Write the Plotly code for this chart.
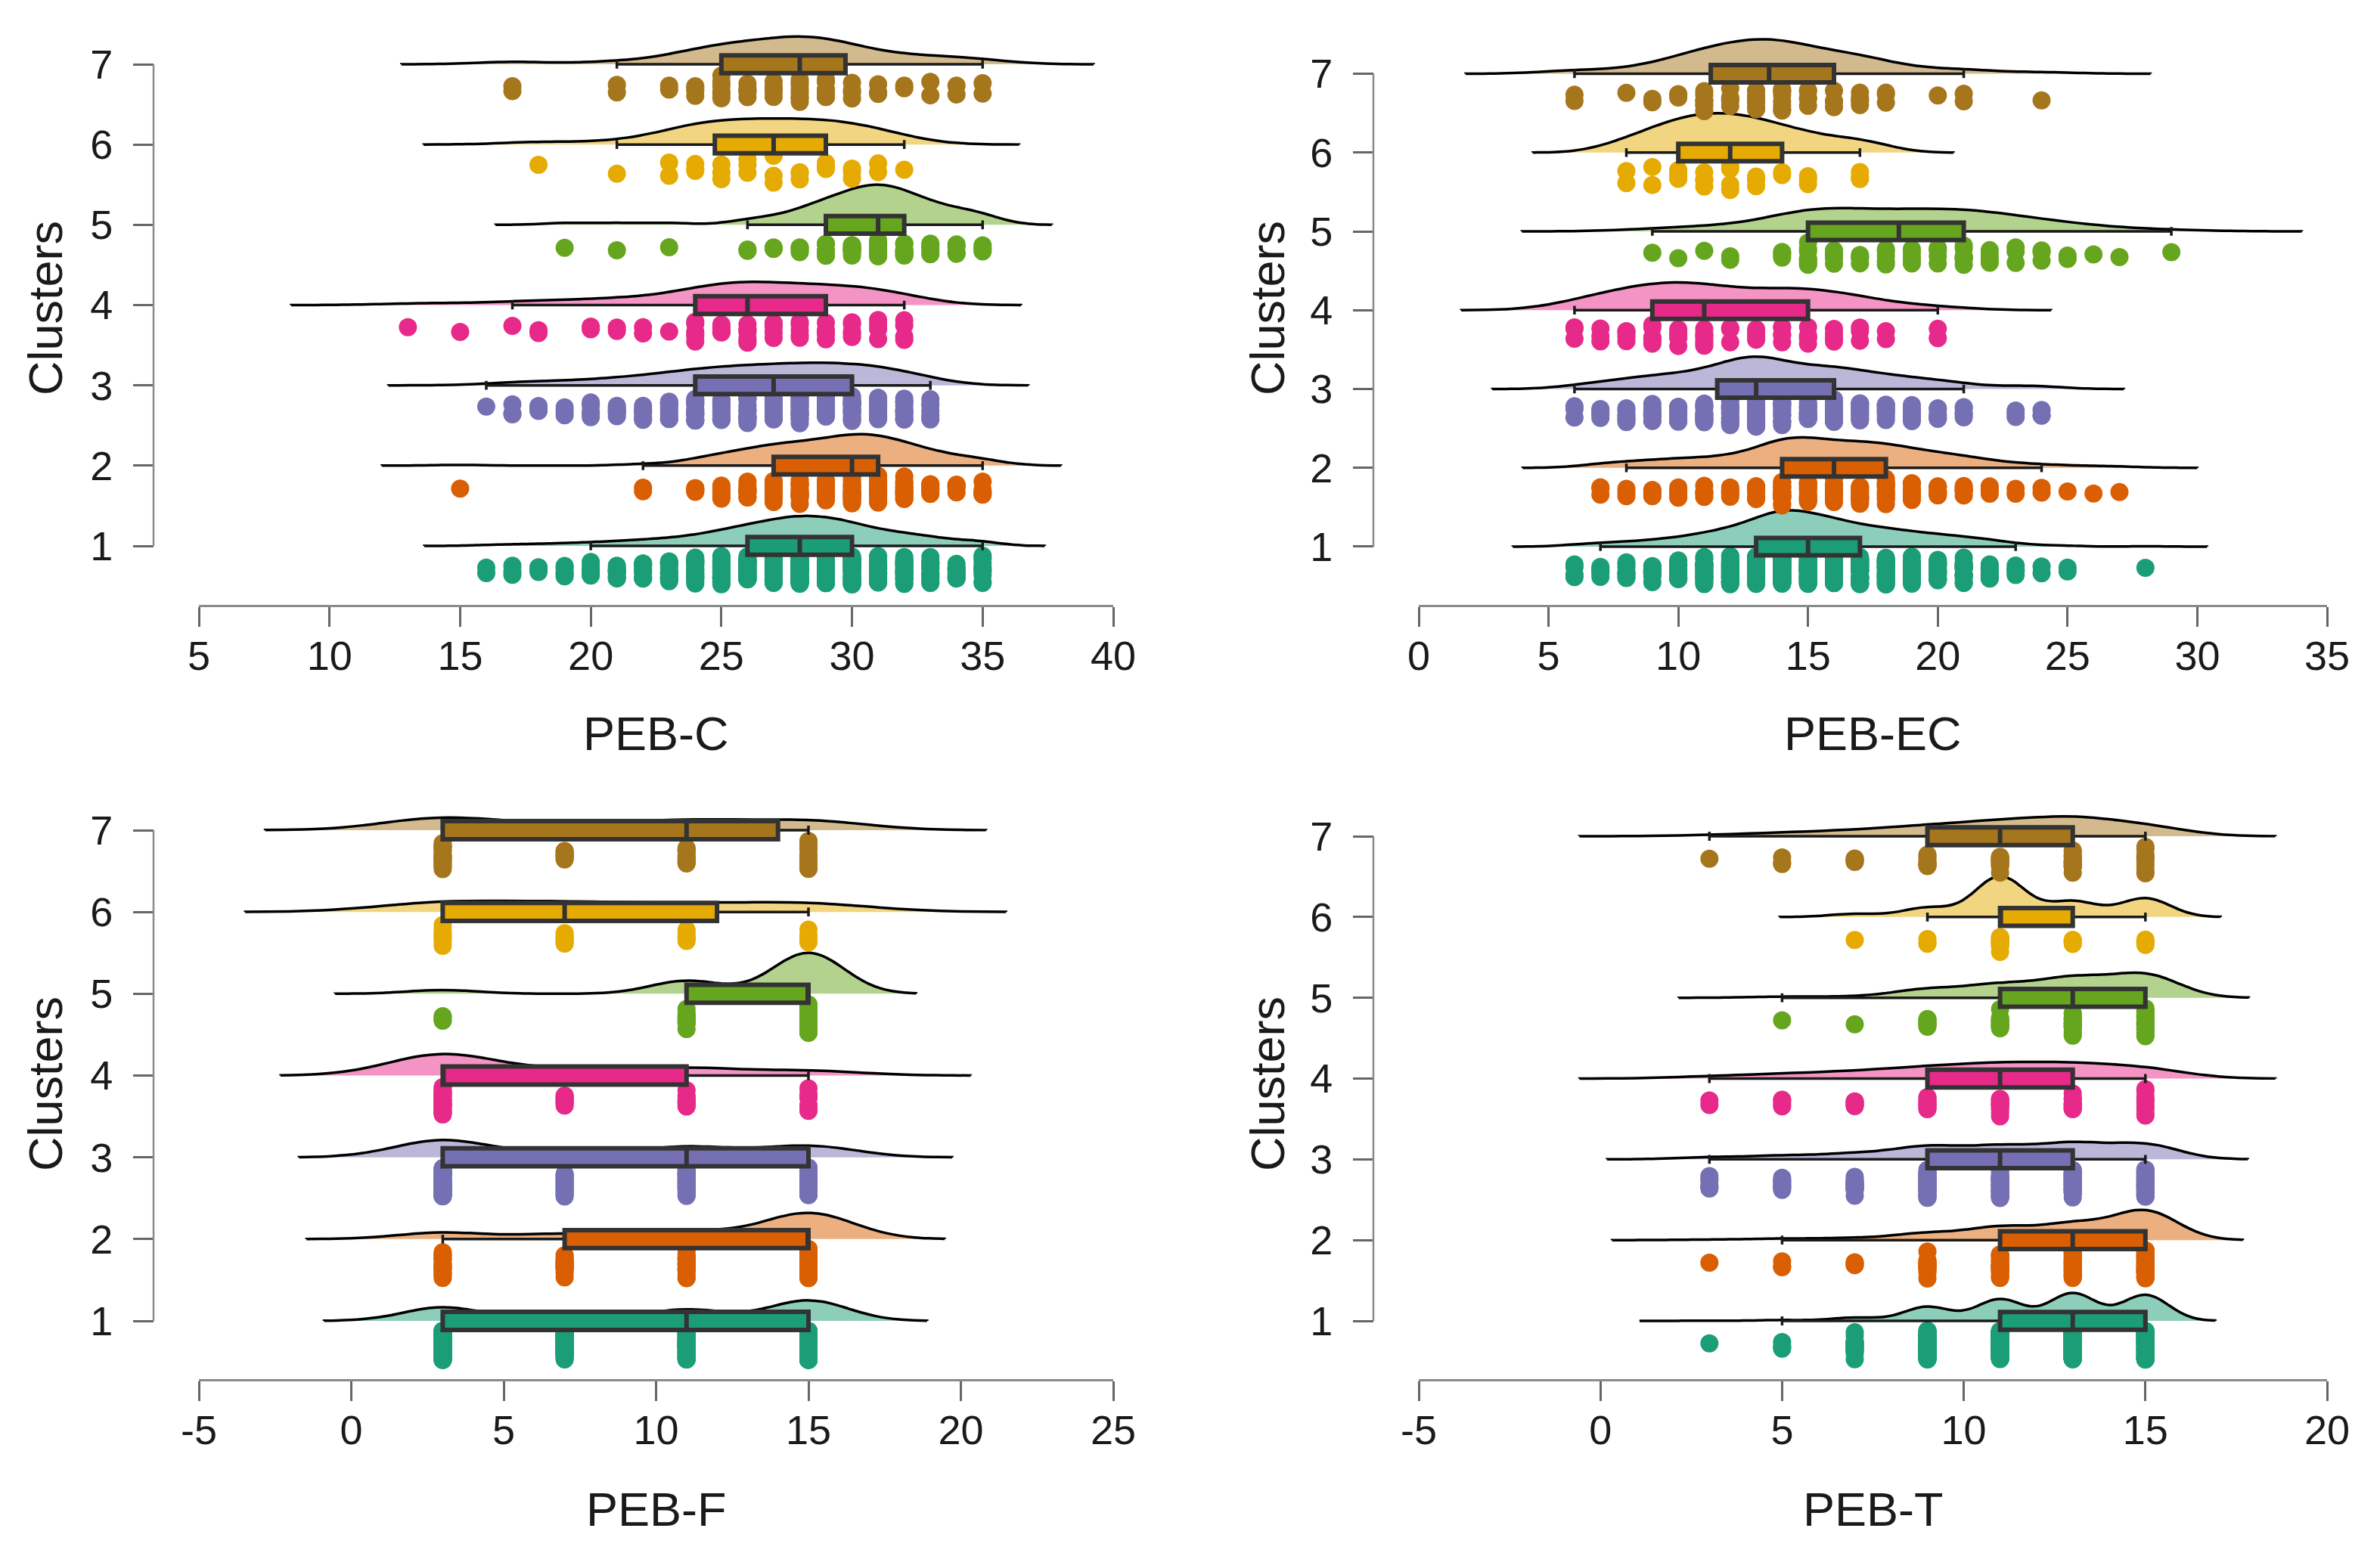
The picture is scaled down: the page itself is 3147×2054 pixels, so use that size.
import numpy as np
import plotly.graph_objects as go

# Raincloud por cluster: media violin (densidad), caja y puntos con jitter
clusters = [1, 2, 3, 4, 5, 6, 7]
cluster_colors = ['#1B9E77', '#D95F02', '#7570B3', '#E7298A', '#66A61E', '#E6AB02', '#A6761D']

# PEB-C: valores 13..35, cuentas por cluster (fila = cluster 1..7)
peb_c_values = list(range(13, 36))
peb_c_counts = [
    [0, 0, 0, 2, 3, 4, 5, 7, 9, 12, 15, 20, 30, 40, 50, 58, 55, 45, 30, 25, 18, 10, 12],
    [0, 0, 1, 0, 0, 0, 0, 0, 0, 2, 0, 5, 7, 10, 13, 14, 15, 20, 19, 14, 9, 5, 6],
    [0, 0, 0, 1, 3, 4, 3, 5, 6, 8, 10, 14, 15, 16, 17, 18, 18, 18, 16, 12, 7, 0, 0],
    [1, 0, 1, 0, 1, 2, 0, 2, 2, 2, 1, 6, 5, 7, 5, 5, 5, 5, 4, 4, 0, 0, 0],
    [0, 0, 0, 0, 0, 0, 1, 0, 1, 0, 1, 0, 0, 2, 2, 4, 7, 9, 12, 9, 6, 4, 4],
    [0, 0, 0, 0, 0, 1, 0, 0, 1, 0, 2, 3, 3, 3, 3, 3, 3, 3, 2, 1, 0, 0, 0],
    [0, 0, 0, 0, 2, 0, 0, 0, 2, 0, 2, 4, 6, 5, 6, 8, 8, 4, 3, 2, 2, 2, 2],
]

# PEB-EC: valores 6..29
peb_ec_values = list(range(6, 30))
peb_ec_counts = [
    [4, 6, 8, 11, 15, 22, 30, 44, 64, 54, 46, 34, 30, 24, 20, 16, 12, 5, 2, 2, 0, 0, 1, 0],
    [0, 3, 3, 4, 5, 5, 6, 8, 18, 15, 13, 13, 13, 9, 8, 6, 4, 2, 2, 1, 1, 1, 0, 0],
    [3, 5, 7, 10, 10, 13, 18, 30, 16, 15, 17, 12, 10, 8, 6, 5, 0, 3, 3, 0, 0, 0, 0, 0],
    [3, 3, 5, 6, 6, 7, 3, 4, 5, 5, 4, 3, 2, 0, 2, 0, 0, 0, 0, 0, 0, 0, 0, 0],
    [0, 0, 0, 1, 1, 1, 2, 0, 4, 8, 5, 4, 5, 5, 4, 7, 4, 3, 3, 2, 1, 1, 0, 1],
    [0, 0, 2, 2, 4, 4, 4, 4, 2, 3, 0, 3, 0, 0, 0, 0, 0, 0, 0, 0, 0, 0, 0, 0],
    [2, 0, 1, 2, 3, 7, 5, 9, 8, 5, 4, 5, 3, 0, 1, 2, 0, 0, 1, 0, 0, 0, 0, 0],
]

# PEB-F: valores 3, 7, 11, 15
peb_f_values = [3, 7, 11, 15]
peb_f_counts = [
    [117, 59, 98, 176],
    [20, 16, 24, 80],
    [76, 19, 46, 50],
    [32, 8, 11, 7],
    [4, 0, 14, 44],
    [8, 7, 6, 7],
    [20, 8, 15, 15],
]

# PEB-T: valores 3..15 de 2 en 2
peb_t_values = [3, 5, 7, 9, 11, 13, 15]
peb_t_counts = [
    [1, 4, 16, 68, 104, 133, 124],
    [1, 3, 4, 14, 26, 32, 60],
    [6, 10, 16, 36, 36, 44, 43],
    [2, 4, 6, 10, 13, 13, 10],
    [0, 1, 1, 8, 12, 18, 22],
    [0, 0, 1, 3, 13, 5, 6],
    [1, 3, 5, 9, 13, 17, 10],
]

peb_c_ticks = [5, 10, 15, 20, 25, 30, 35, 40]
peb_ec_ticks = [0, 5, 10, 15, 20, 25, 30, 35]
peb_f_ticks = [-5, 0, 5, 10, 15, 20, 25]
peb_t_ticks = [-5, 0, 5, 10, 15, 20]

FONT = 'Liberation Sans'
W, H = 3147, 2054
OFF = 8  # margen del body de la pagina


def fx(px):
    return (px - OFF) / W


def fy(py):
    return 1 - (py - OFF) / H


def expand(values, counts):
    return np.repeat(np.array(values, dtype=float), counts)


def nrd0(v):
    # ancho de banda por defecto de R (bw.nrd0)
    sd = v.std(ddof=1)
    q75, q25 = np.percentile(v, [75, 25])
    lo = min(sd, (q75 - q25) / 1.34) if q75 > q25 else sd
    return 0.9 * lo * len(v) ** -0.2


def box_stats(v):
    q1, med, q3 = np.percentile(v, [25, 50, 75])
    iqr = q3 - q1
    lo = v[v >= q1 - 1.5 * iqr].min()
    hi = v[v <= q3 + 1.5 * iqr].max()
    return q1, med, q3, lo, hi


def rgba(hex_color, a):
    h = hex_color.lstrip('#')
    return 'rgba(%d, %d, %d, %.2f)' % (int(h[0:2], 16), int(h[2:4], 16), int(h[4:6], 16), a)


panels = [
    # titulo, valores, cuentas, ticks, x px (izq, der), y px (arriba, abajo), eje y px, eje x px
    ('PEB-C', peb_c_values, peb_c_counts, peb_c_ticks, (263, 1472), (21.3, 785.7), 203, 801),
    ('PEB-EC', peb_ec_values, peb_ec_counts, peb_ec_ticks, (1876, 3077), (35.0, 785.5), 1816, 801),
    ('PEB-F', peb_f_values, peb_f_counts, peb_f_ticks, (263, 1472), (1033.1, 1811.9), 203, 1825),
    ('PEB-T', peb_t_values, peb_t_counts, peb_t_ticks, (1876, 3077), (1041.9, 1811.1), 1816, 1825),
]

fig = go.Figure()
layout = {}
shapes = []
annotations = []

for i, (title, values, counts, ticks, xpx, ypx, yax_px, xax_px) in enumerate(panels):
    n = '' if i == 0 else str(i + 1)
    xa, ya = 'x' + n, 'y' + n
    xdom = [fx(xpx[0]), fx(xpx[1])]
    ydom = [fy(ypx[1]), fy(ypx[0])]
    for k, col, cnt in zip(clusters, cluster_colors, counts):
        v = expand(values, cnt)
        bw = nrd0(v)
        # mitad superior del violin + puntos debajo (misma escala de area en el panel)
        fig.add_trace(go.Violin(
            x=v, y=[k] * len(v), orientation='h', side='positive',
            scalegroup=title, scalemode='width',
            bandwidth=bw, spanmode='manual', span=[v.min() - 3 * bw, v.max() + 3 * bw],
            line=dict(color='black', width=3.5), fillcolor=rgba(col, 0.5),
            points='all', pointpos=-0.6, jitter=0.36,
            marker=dict(color=col, size=24, line=dict(width=0)),
            box_visible=False, meanline_visible=False,
            hoverinfo='skip', showlegend=False, xaxis=xa, yaxis=ya))
        q1, med, q3, lo, hi = box_stats(v)
        # bigotes
        fig.add_trace(go.Box(
            y=[k], q1=[q1], median=[med], q3=[q3], lowerfence=[lo], upperfence=[hi],
            orientation='h', width=0.22, whiskerwidth=0.5, fillcolor=col,
            line=dict(color='#1a1a1a', width=3.5), boxpoints=False,
            hoverinfo='skip', showlegend=False, xaxis=xa, yaxis=ya))
        # caja con borde grueso
        fig.add_trace(go.Box(
            y=[k], q1=[q1], median=[med], q3=[q3], lowerfence=[q1], upperfence=[q3],
            orientation='h', width=0.22, whiskerwidth=0, fillcolor=col,
            line=dict(color='#333333', width=6), boxpoints=False,
            hoverinfo='skip', showlegend=False, xaxis=xa, yaxis=ya))

    layout['xaxis' + n] = dict(
        domain=xdom, range=[ticks[0], ticks[-1]], anchor='free', position=fy(xax_px),
        tickmode='array', tickvals=ticks, ticktext=[str(t) for t in ticks],
        ticks='outside', ticklen=26, tickwidth=2.5, tickcolor='#666666',
        showline=True, linecolor='#8a8a8a', linewidth=2.5, automargin=False,
        showgrid=False, zeroline=False, ticklabelstandoff=-8,
        tickfont=dict(family=FONT, size=54, color='#1a1a1a'))
    layout['yaxis' + n] = dict(
        domain=ydom, range=[0.4, 7.6], anchor='free', position=fx(yax_px),
        tickmode='array', tickvals=clusters, ticks='outside', ticklen=27, tickwidth=2.5,
        tickcolor='#666666', showline=False, showgrid=False, zeroline=False, automargin=False,
        ticklabelstandoff=16, tickfont=dict(family=FONT, size=54, color='#1a1a1a'))
    shapes.append(dict(type='line', xref='paper', yref=ya, x0=fx(yax_px), x1=fx(yax_px), y0=1, y1=7,
                       line=dict(color='#8a8a8a', width=2.5)))
    annotations.append(dict(text=title, xref='paper', yref='paper', x=(xdom[0] + xdom[1]) / 2,
                            y=fy(970 if i < 2 else 1996), xanchor='center', yanchor='middle',
                            showarrow=False, font=dict(family=FONT, size=63, color='#1a1a1a')))
    annotations.append(dict(text='Clusters', xref='paper', yref='paper',
                            x=fx(60 if i % 2 == 0 else 1676), y=fy(408 if i < 2 else 1434),
                            textangle=-90, xanchor='center', yanchor='middle', showarrow=False,
                            font=dict(family=FONT, size=63, color='#1a1a1a')))

fig.update_layout(
    width=W, height=H, margin=dict(l=0, r=0, t=0, b=0, autoexpand=False),
    paper_bgcolor='white', plot_bgcolor='white',
    violinmode='overlay', violingap=0, violingroupgap=0,
    boxmode='overlay', showlegend=False,
    shapes=shapes, annotations=annotations, **layout)

fig.write_html('out.html')
